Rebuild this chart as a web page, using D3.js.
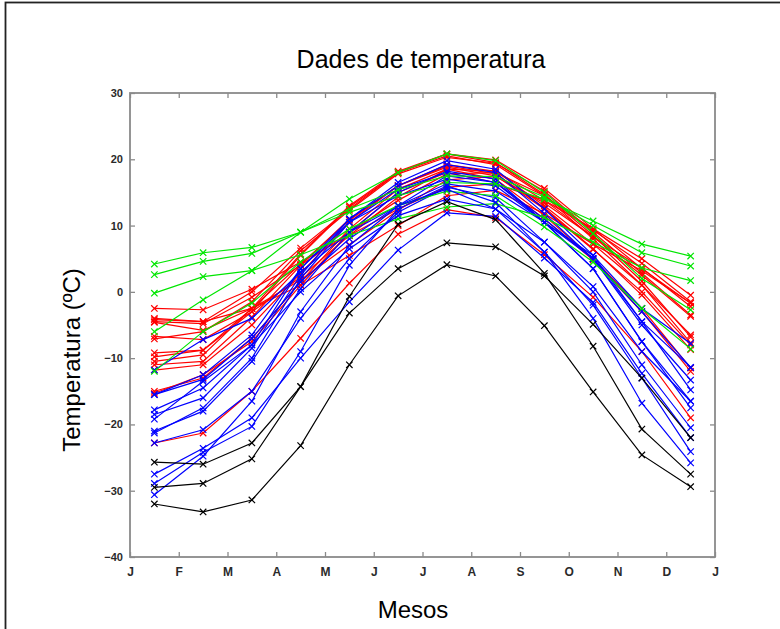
<!DOCTYPE html>
<html>
<head>
<meta charset="utf-8">
<script src="https://cdn.jsdelivr.net/npm/d3@7/dist/d3.min.js"></script>
<style>
  html, body { margin: 0; padding: 0; background: #fff; }
  svg { display: block; }
  .tick text { font-family: "Liberation Sans", Arial, sans-serif; font-weight: bold; fill: #2a2a2a; }
</style>
</head>
<body>
<svg id="chart" width="780" height="629"></svg>
<script>
// Month tick labels (ticks sit on month boundaries, points at mid-month)
const monthLabels = ["J", "F", "M", "A", "M", "J", "J", "A", "S", "O", "N", "D", "J"];
const yTicks = [-40, -30, -20, -10, 0, 10, 20, 30];

// Monthly mean temperatures (ºC), one row per station, Jan..Dec
const atlantic = [
  [-4.0, -4.5, -2.5, 1.0, 5.5, 10.0, 14.5, 15.3, 11.8, 7.2, 3.2, -1.7],   // St. Johns
  [-4.5, -4.8, -0.8, 4.0, 9.0, 13.8, 17.8, 18.0, 14.5, 9.3, 4.3, -1.5],   // Halifax
  [-4.6, -5.8, -2.5, 1.8, 7.1, 12.3, 16.9, 17.4, 13.4, 8.3, 3.6, -2.2],   // Sydney
  [-2.5, -2.7, 0.4, 4.5, 8.5, 12.5, 15.8, 16.3, 13.8, 9.5, 5.0, -0.5],    // Yarmouth
  [-6.7, -7.2, -3.0, 2.2, 8.5, 14.3, 18.5, 18.2, 13.8, 8.3, 2.5, -3.7],   // Charlottetown
  [-9.2, -8.8, -2.5, 4.2, 10.8, 16.0, 19.2, 18.2, 13.0, 7.2, 1.0, -6.5],  // Fredericton
  [-22.8, -21.3, -15.0, -7.0, 1.3, 8.7, 12.4, 11.2, 5.6, -0.8, -9.0, -19.0], // Schefferville
  [-15.0, -13.0, -7.0, 1.5, 9.5, 15.5, 18.5, 17.0, 11.5, 5.0, -2.5, -11.5], // Arvida
  [-15.3, -12.5, -7.5, 1.0, 9.0, 15.0, 18.0, 16.5, 11.0, 4.8, -3.0, -12.0], // Bagotville
  [-11.8, -11.0, -5.0, 2.8, 10.5, 16.0, 19.0, 17.8, 12.7, 6.5, -0.5, -8.7], // Quebec
  [-11.0, -10.5, -3.8, 4.0, 11.0, 16.0, 18.8, 17.5, 12.5, 6.4, 0.0, -8.0],  // Sherbrooke
  [-10.5, -9.5, -2.5, 5.7, 13.0, 18.2, 20.8, 19.5, 14.7, 8.5, 1.6, -6.8],   // Montreal
  [-9.8, -8.8, -3.0, 5.5, 12.8, 18.0, 20.5, 19.2, 14.5, 8.0, 1.0, -7.7],    // Ottawa
  [-4.2, -4.5, 0.0, 6.6, 12.5, 18.0, 20.8, 19.9, 15.6, 9.5, 3.5, -1.7],     // Toronto
  [-7.1, -6.0, -1.5, 6.2, 12.3, 17.8, 20.3, 19.4, 15.2, 9.0, 2.8, -3.5]     // London
];

const continental = [
  [-15.5, -13.2, -7.0, 1.5, 8.0, 13.0, 17.5, 16.5, 11.0, 5.0, -3.0, -11.4], // Thunder Bay
  [-18.5, -16.0, -8.5, 2.5, 11.0, 16.5, 19.8, 18.5, 12.5, 5.5, -4.5, -14.8], // Winnipeg
  [-21.0, -18.0, -10.5, 0.5, 9.0, 15.0, 18.2, 17.0, 10.5, 3.5, -7.5, -17.5], // The Pas
  [-27.5, -23.6, -19.0, -10.0, -1.5, 6.3, 11.9, 11.4, 5.1, -1.6, -12.3, -22.0], // Churchill
  [-17.8, -14.5, -8.0, 3.5, 11.0, 16.0, 19.2, 18.0, 11.8, 5.0, -5.0, -13.3], // Regina
  [-21.3, -17.5, -10.0, 2.0, 10.5, 15.5, 18.0, 16.5, 10.5, 3.5, -7.5, -16.5], // Pr. Albert
  [-22.8, -20.8, -15.0, -4.0, 5.0, 12.0, 15.8, 14.2, 7.5, 0.0, -11.0, -20.5], // Uranium City
  [-15.5, -12.5, -6.5, 3.5, 10.5, 14.5, 17.0, 16.0, 10.5, 5.0, -4.5, -11.4], // Edmonton
  [-11.8, -7.2, -4.0, 3.0, 9.0, 13.0, 16.3, 15.2, 10.5, 5.5, -2.5, -7.8]     // Calgary
];

const pacific = [
  [-6.0, -1.2, 3.2, 9.0, 14.0, 18.0, 20.8, 19.8, 15.0, 8.8, 2.0, -2.7],     // Kamloops
  [2.6, 4.6, 5.8, 9.0, 12.5, 15.4, 17.5, 17.4, 14.3, 10.0, 5.9, 3.9],       // Vancouver
  [4.2, 5.9, 6.7, 9.0, 12.0, 14.5, 16.5, 16.3, 14.0, 10.7, 7.2, 5.4],       // Victoria
  [-12.0, -6.0, -1.7, 4.5, 9.5, 13.0, 15.2, 14.5, 9.8, 4.5, -2.5, -8.6],    // Pr. George
  [-0.2, 2.3, 3.2, 5.6, 8.5, 11.0, 12.8, 13.3, 11.2, 7.5, 3.6, 1.7]         // Pr. Rupert
];

const northern = [
  [-19.2, -13.5, -8.0, 0.0, 6.5, 11.5, 14.0, 12.5, 7.5, 0.8, -9.0, -16.5],  // Whitehorse
  [-30.6, -24.8, -16.5, -3.0, 7.0, 13.0, 15.5, 12.5, 6.0, -4.0, -16.8, -25.8], // Dawson
  [-28.9, -24.2, -20.3, -9.0, 4.0, 12.5, 16.0, 13.5, 6.0, -2.0, -13.0, -24.1]  // Yellowknife
];

const arctic = [
  [-25.7, -26.0, -22.8, -14.3, -3.2, 3.5, 7.4, 6.8, 2.4, -4.9, -13.0, -22.0],   // Iqaluit
  [-29.5, -28.9, -25.2, -14.3, -0.7, 10.2, 13.6, 10.9, 2.8, -8.2, -20.7, -27.5], // Inuvik
  [-32.0, -33.2, -31.4, -23.2, -11.0, -0.6, 4.1, 2.4, -5.1, -15.1, -24.6, -29.4] // Resolute
];

// Drawing order follows the station list: Atlantic, Continental, Pacific, northern Continental, Arctic
const groups = [
  { rows: atlantic, color: "#ff0000" },
  { rows: continental, color: "#0000ff" },
  { rows: pacific, color: "#00e600" },
  { rows: northern, color: "#0000ff" },
  { rows: arctic, color: "#000000" }
];

const svg = d3.select("#chart");
const plotLeft = 130, plotRight = 715, plotTop = 93, plotBottom = 557;

// Figure frame
svg.append("rect")
  .attr("x", 5.5).attr("y", 2.5)
  .attr("width", 900).attr("height", 900)
  .attr("fill", "#fff").attr("stroke", "#222").attr("stroke-width", 1.8);

const x = d3.scaleLinear().domain([0, 12]).range([plotLeft, plotRight]);
const y = d3.scaleLinear().domain([-40, 30]).range([plotBottom, plotTop]);

const axisColor = "#8a8a8a";

function styleAxis(g) {
  g.select(".domain").remove();
  g.selectAll(".tick line").attr("stroke", axisColor).attr("stroke-width", 1.3);
}

// Bottom axis with month letters
svg.append("g")
  .attr("transform", `translate(0,${plotBottom})`)
  .call(d3.axisBottom(x).tickValues(d3.range(13)).tickFormat(i => monthLabels[i])
    .tickSizeInner(-5).tickSizeOuter(0).tickPadding(10))
  .call(styleAxis)
  .selectAll("text").style("font-size", "12px");

// Top axis ticks
svg.append("g")
  .attr("transform", `translate(0,${plotTop})`)
  .call(d3.axisTop(x).tickValues(d3.range(13)).tickFormat("").tickSizeInner(-5).tickSizeOuter(0))
  .call(styleAxis);

// Left axis with temperature values
svg.append("g")
  .attr("transform", `translate(${plotLeft},0)`)
  .call(d3.axisLeft(y).tickValues(yTicks).tickFormat(d3.format("d"))
    .tickSizeInner(-5).tickSizeOuter(0).tickPadding(7))
  .call(styleAxis)
  .selectAll("text").style("font-size", "11px");

// Right axis ticks
svg.append("g")
  .attr("transform", `translate(${plotRight},0)`)
  .call(d3.axisRight(y).tickValues(yTicks).tickFormat("").tickSizeInner(-5).tickSizeOuter(0))
  .call(styleAxis);

// Plot box
svg.append("rect")
  .attr("x", plotLeft).attr("y", plotTop)
  .attr("width", plotRight - plotLeft).attr("height", plotBottom - plotTop)
  .attr("fill", "none").attr("stroke", axisColor).attr("stroke-width", 1.8);

// Series lines with x markers
const line = d3.line().x((d, i) => x(i + 0.5)).y(d => y(d));
const m = 3.2;
groups.forEach(g => {
  g.rows.forEach(row => {
    const s = svg.append("g");
    s.append("path")
      .attr("d", line(row))
      .attr("fill", "none").attr("stroke", g.color).attr("stroke-width", 1.2);
    s.selectAll("path.mk").data(row).join("path")
      .attr("class", "mk")
      .attr("d", (d, i) => {
        const cx = x(i + 0.5), cy = y(d);
        return `M${cx - m},${cy - m}L${cx + m},${cy + m}M${cx - m},${cy + m}L${cx + m},${cy - m}`;
      })
      .attr("fill", "none").attr("stroke", g.color).attr("stroke-width", 1.2);
  });
});

// Title and axis labels
const font = "'Liberation Sans', Arial, sans-serif";
svg.append("text")
  .attr("x", 421).attr("y", 68)
  .attr("text-anchor", "middle")
  .style("font-family", font).style("font-size", "25px").attr("fill", "#000")
  .text("Dades de temperatura");

svg.append("text")
  .attr("transform", `translate(80,${(plotTop + plotBottom) / 2 + 35}) rotate(-90)`)
  .attr("text-anchor", "middle")
  .style("font-family", font).style("font-size", "24px").attr("fill", "#000")
  .text("Temperatura (ºC)");

svg.append("text")
  .attr("x", 413).attr("y", 618)
  .attr("text-anchor", "middle")
  .style("font-family", font).style("font-size", "24px").attr("fill", "#000")
  .text("Mesos");
</script>
</body>
</html>
